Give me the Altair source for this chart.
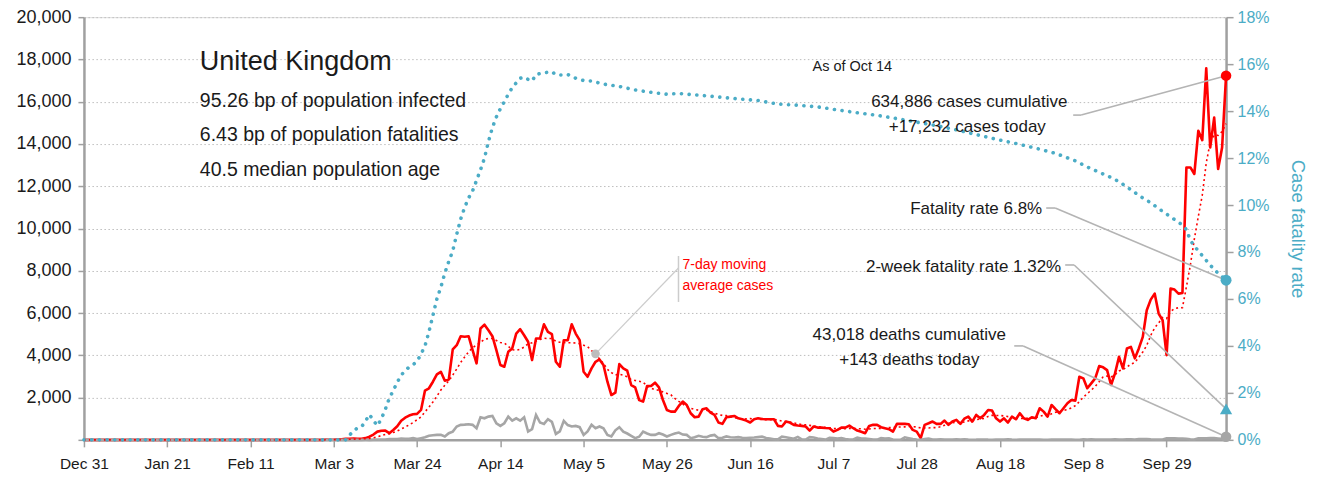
import altair as alt
import pandas as pd

# ---------------- data ----------------
TICK_DAYS = [0, 21, 42, 63, 84, 105, 126, 147, 168, 189, 210, 231, 252, 273]
TICK_LABELS = ["Dec 31", "Jan 21", "Feb 11", "Mar 3", "Mar 24", "Apr 14", "May 5",
               "May 26", "Jun 16", "Jul 7", "Jul 28", "Aug 18", "Sep 8", "Sep 29"]
LAST_DAY = 288  # Oct 14, days since Dec 31

# daily cases, day 0 = Dec 31
CASES = [0] * 61 + [
    10, 5, 10, 30, 30, 50, 45, 65, 50, 50,                      # d61-70
    80, 150, 250, 390, 430, 440, 315, 470, 640, 900,            # d71-80
    1050, 1150, 1210, 1230, 1415, 2330, 2440, 2750, 3100, 3220,
    2800, 2860, 4280, 4480, 4905, 4880, 4905, 4245, 3620, 5270,
    5450, 5190, 4905, 4245, 3540, 3460, 4170, 4325, 5030, 5235,
    4950, 4640, 3775, 4795, 4795, 5465, 5110, 5000, 3695, 3460,
    4715, 4715, 5470, 5030, 4715, 3220, 2985, 3380, 3695, 3805,
    3540, 2750, 2120, 2230, 3585, 3380, 3270, 2595, 2485, 1885,
    1810, 2545, 2545, 2705, 2485, 1885, 1415, 1335, 1335, 1605,
    1810, 1650, 1260, 1070, 1100, 1450, 1495, 1290, 1180, 820,
    755, 1070, 1100, 1130, 1020, 975, 910, 820, 975, 1020,
    990, 975, 975, 975, 660, 630, 865, 820, 710, 680,
    660, 630, 440, 630, 580, 580, 560, 550, 390, 470,
    580, 580, 675, 550, 440, 380, 315, 660, 710, 710,
    600, 550, 505, 390, 755, 755, 755, 740, 470, 390,           # d201-210
    80, 710, 785, 865, 755, 755, 910, 710, 865, 945,
    755, 1000, 1100, 865, 1180, 1020, 1180, 1415, 1385, 1020,
    865, 1020, 820, 1100, 975, 1260, 1020, 945, 1070, 1020,
    1495, 1335, 1100, 1650, 1450, 1260, 1495, 1730, 1885, 1855,
    2985, 2910, 2440, 2675, 2910, 3490, 3430, 3300, 2595, 3145,
    3930, 3380, 4325, 4400, 3855, 4325, 4875, 6130, 6635, 6920,
    5975, 5660, 4010, 7155, 7110, 6920, 6950, 12890, 12890, 12580,
    14620, 14180, 17580, 13835, 15250, 12815, 13835, 17232,     # d281-288
]

# daily deaths, day 0 = Dec 31
DEATHS = [0] * 70 + [
    1, 2, 1, 10, 14, 20, 16, 33, 40, 33, 56, 48, 54, 87, 41,     # d70-84
    80, 120, 190, 220, 235, 235,                                 # d85-90
    157, 315, 390, 630, 710, 720, 740, 710, 550, 1070,
    1020, 1100, 1130, 785, 660, 785, 1100, 910, 1020, 910,
    1070, 390, 505, 1180, 820, 755, 975, 850, 280, 400,
    900, 700, 630, 660, 600, 235, 400, 710, 550, 630,
    550, 235, 160, 450, 600, 390, 300, 190, 80, 150,
    390, 300, 235, 235, 315, 250, 160, 235, 300, 345,
    250, 235, 80, 120, 190, 150, 130, 200, 235, 80,
    100, 160, 120, 110, 130, 100, 80, 100, 110, 130,
    150, 85, 60, 30, 25, 150, 120, 90, 50, 140,
    20, 15, 130, 110, 60, 40, 10, 100, 80, 60,
    80, 40, 10, 20, 110, 60, 65, 40, 10, 10,
    80, 60, 70, 20, 5, 10, 120, 80, 40, 10,
    5, 40, 65, 20, 20, 30, 10, 10, 10, 20,
    10, 20, 10, 5, 10, 20, 20, 10, 5, 10,
    10, 15, 20, 10, 5, 10, 15, 15, 10, 15,
    10, 5, 5, 10, 10, 15, 10, 10, 12, 5,
    5, 30, 10, 20, 15, 10, 10, 10, 10, 25,
    20, 20, 25, 25, 20, 35, 40, 35, 25, 20,
    20, 15, 70, 70, 70, 65, 65, 50, 30, 20,
    75, 70, 75, 80, 80, 65, 50, 143,
]

# case fatality rate (%), cumulative deaths / cumulative cases
CFR_DAYS = [0, 66, 67, 68, 69, 70, 71, 72, 73, 74, 75, 76, 77, 78, 79, 80,
            81, 82, 83, 84, 85, 86, 87, 88, 89, 90, 91, 92, 93, 94, 95, 96,
            97, 98, 99, 100, 101, 102, 103, 104, 105, 106, 107, 108, 109, 110,
            111, 112, 113, 114, 116, 118, 119, 121, 122, 124, 126, 128, 131,
            135, 139, 143, 147, 150, 155, 160, 165, 170, 175, 180, 185, 190,
            195, 200, 205, 210, 215, 220, 225, 230, 235, 240, 245, 250, 254,
            258, 261, 264, 267, 269, 271, 274, 277, 278, 279, 280, 281, 283,
            285, 287, 288]
CFR_PCT = [0, 0, 0.2, 0.4, 0.5, 0.55, 0.8, 1.08, 0.82, 0.6, 0.9, 1.3, 1.77, 2.1,
           2.45, 2.75, 2.95, 3.1, 3.2, 3.35, 3.65, 4.0, 4.6, 5.3, 6.0, 6.5, 7.1,
           7.6, 8.05, 8.75, 9.4, 9.9, 10.3, 10.6, 11.05, 11.5, 12.0, 12.7, 13.3,
           13.75, 14.1, 14.4, 14.72, 15.0, 15.2, 15.4, 15.45, 15.35, 15.28,
           15.56, 15.63, 15.68, 15.55, 15.53, 15.56, 15.4, 15.3, 15.28, 15.15,
           15.05, 14.9, 14.8, 14.72, 14.75, 14.68, 14.6, 14.52, 14.45, 14.3,
           14.25, 14.18, 14.05, 13.93, 13.82, 13.68, 13.53, 13.38, 13.2, 13.0,
           12.8, 12.62, 12.42, 12.2, 11.88, 11.54, 11.25, 11.0, 10.65, 10.3,
           10.1, 9.85, 9.5, 9.15, 8.95, 8.5, 8.25, 8.05, 7.64, 7.25, 6.95, 6.8]
TWO_WEEK_CFR = 1.32
CALLOUT_DAY = 129   # where the "7-day moving average cases" note points
CUM_CASES = 634886
CUM_DEATHS = 43018

TITLE = "United Kingdom"
FACTS = ["95.26 bp of population infected",
         "6.43 bp of population fatalities",
         "40.5 median population age"]

assert len(CASES) == LAST_DAY + 1 and len(DEATHS) == LAST_DAY + 1
assert len(CFR_DAYS) == len(CFR_PCT)

# ---------------- styling ----------------
FONT = "Liberation Sans, Arial, sans-serif"
RED = "#ff0000"
BLUE = "#4bacc6"
GREY = "#a6a6a6"
AXIS_GREY = "#a0a0a0"
LEADER = "#b4b4b4"
INK = "#1a1a1a"

W, H = 1143, 423

daily = pd.DataFrame({"day": list(range(LAST_DAY + 1)), "cases": CASES, "deaths": DEATHS})
cfr = pd.DataFrame({"day": CFR_DAYS, "cfr": CFR_PCT})

left_scale = alt.Scale(domain=[0, 20000], nice=False, zero=True)
right_scale = alt.Scale(domain=[0, 18], nice=False, zero=True)
x_scale = alt.Scale(domain=[0, LAST_DAY], nice=False, zero=False)

label_lookup = "{" + ", ".join(f"'{d}': '{t}'" for d, t in zip(TICK_DAYS, TICK_LABELS)) + "}"
x_axis = alt.Axis(values=TICK_DAYS,
                  labelExpr=f"{label_lookup}[datum.label]",
                  title=None, grid=False, orient="bottom",
                  domainColor=AXIS_GREY, domainWidth=2.5,
                  tickColor=AXIS_GREY, tickWidth=1.5, tickSize=7, labelPadding=10,
                  labelFontSize=15.5, labelColor=INK, labelFont=FONT,
                  labelOverlap=False, labelFlush=False, format="d")
left_axis = alt.Axis(values=list(range(0, 20001, 2000)),
                     labelExpr="datum.value == 0 ? '' : format(datum.value, ',')",
                     title=None, orient="left", grid=True, gridColor="#bdbdbd",
                     gridDash=[1.5, 2.5], gridWidth=1, domainColor=AXIS_GREY, domainWidth=2.5,
                     tickColor=AXIS_GREY, tickWidth=1.5, tickSize=6, labelPadding=7,
                     labelFontSize=18, labelColor=INK, labelFont=FONT)
right_axis = alt.Axis(values=list(range(0, 19, 2)), labelExpr="datum.value + '%'",
                      title="Case fatality rate", orient="right", grid=False,
                      domainColor=AXIS_GREY, domainWidth=2.5, tickColor=AXIS_GREY,
                      tickWidth=1.5, tickSize=7, labelPadding=4, labelFontSize=16,
                      labelColor=BLUE, labelFont=FONT, titleColor=BLUE,
                      titleFontSize=18.5, titleFontWeight="normal", titleFont=FONT,
                      titlePadding=18)

# every layer that has an x field carries the same x axis definition so they merge
X = alt.X("day:Q", scale=x_scale, axis=x_axis)

cases_line = alt.Chart(daily).mark_line(color=RED, strokeWidth=2.6, strokeJoin="round").encode(
    x=X, y=alt.Y("cases:Q", scale=left_scale, axis=left_axis))

deaths_line = alt.Chart(daily).mark_line(color=GREY, strokeWidth=2.6).encode(
    x=X, y=alt.Y("deaths:Q", scale=left_scale, axis=None))

ma_line = alt.Chart(daily).transform_window(
    ma="mean(cases)", frame=[-6, 0], sort=[{"field": "day"}]
).mark_line(color=RED, strokeWidth=1.6, strokeDash=[2, 3]).encode(
    x=X, y=alt.Y("ma:Q", scale=left_scale, axis=None))

cfr_line = alt.Chart(cfr).mark_line(color=BLUE, strokeWidth=3.6, strokeDash=[0.1, 7.6],
                                    strokeCap="round").encode(
    x=X, y=alt.Y("cfr:Q", scale=right_scale, axis=right_axis))

last = daily[daily["day"] == LAST_DAY]
cfr_last = cfr[cfr["day"] == LAST_DAY]
two_week = pd.DataFrame({"day": [LAST_DAY], "rate": [TWO_WEEK_CFR]})


def leader(df, field, scale, sx, sy, hx):
    seg = alt.Chart(df).mark_rule(color=LEADER, strokeWidth=1.6).encode(
        x=X, y=alt.Y(f"{field}:Q", scale=scale, axis=None),
        x2=alt.value(hx), y2=alt.value(sy))
    hor = alt.Chart(df).mark_rule(color=LEADER, strokeWidth=1.6).encode(
        x=alt.value(sx), x2=alt.value(hx), y=alt.value(sy))
    return [seg, hor]


layers = []
layers += leader(last, "cases", left_scale, 990, 98, 998)
layers += leader(cfr_last, "cfr", right_scale, 963, 191, 972)
layers += leader(two_week, "rate", right_scale, 982, 248, 991)
layers += leader(last, "deaths", left_scale, 931, 329, 940)

# callout for the moving average
callout = alt.Chart(daily).transform_window(
    ma="mean(cases)", frame=[-6, 0], sort=[{"field": "day"}]
).transform_filter(alt.datum.day == CALLOUT_DAY)
callout_leader = callout.mark_rule(color="#cccccc", strokeWidth=1.2).encode(
    x=X, y=alt.Y("ma:Q", scale=left_scale, axis=None),
    x2=alt.value(595), y2=alt.value(251))
callout_dot = callout.mark_circle(color="#bdbdbd", size=75, opacity=1).encode(
    x=X, y=alt.Y("ma:Q", scale=left_scale, axis=None))
callout_bar = alt.Chart(last).mark_rule(color="#cccccc", strokeWidth=1.5).encode(
    x=alt.value(595), y=alt.value(239), y2=alt.value(285))

end_cases = alt.Chart(last).mark_circle(color=RED, size=110, opacity=1).encode(
    x=X, y=alt.Y("cases:Q", scale=left_scale, axis=None))
end_deaths = alt.Chart(last).mark_circle(color="#a6a6a6", size=110, opacity=1).encode(
    x=X, y=alt.Y("deaths:Q", scale=left_scale, axis=None))
end_cfr = alt.Chart(cfr_last).mark_circle(color=BLUE, size=120, opacity=1).encode(
    x=X, y=alt.Y("cfr:Q", scale=right_scale, axis=None))
end_two = alt.Chart(two_week).mark_point(shape="triangle-up", filled=True, color=BLUE,
                                         size=150, opacity=1).encode(
    x=X, y=alt.Y("rate:Q", scale=right_scale, axis=None))

one = pd.DataFrame({"k": [0]})


def label(text, x, y, size, align="left", color=INK):
    return alt.Chart(one).mark_text(text=text, font=FONT, fontSize=size, align=align,
                                    baseline="middle", color=color).encode(
        x=alt.value(x), y=alt.value(y))


texts = [
    label(TITLE, 116, 45, 27),
    label(FACTS[0], 116, 84, 19.5),
    label(FACTS[1], 116, 118, 19.5),
    label(FACTS[2], 116, 153, 19.5),
    label("As of Oct 14", 769, 50, 14.5, "center"),
    label(f"{CUM_CASES:,} cases cumulative", 886, 85, 17, "center"),
    label(f"+{CASES[-1]:,} cases today", 884, 110, 17, "center"),
    label(f"Fatality rate {CFR_PCT[-1]}%", 959, 192, 17, "right"),
    label(f"2-week fatality rate {TWO_WEEK_CFR}%", 978, 250, 17, "right"),
    label(f"{CUM_DEATHS:,} deaths cumulative", 826, 318, 17, "center"),
    label(f"+{DEATHS[-1]} deaths today", 826, 343, 17, "center"),
    label("7-day moving", 599, 248, 14, "left", RED),
    label("average cases", 599, 269, 14, "left", RED),
]

chart = alt.layer(
    cases_line, deaths_line, ma_line, cfr_line,
    *layers, callout_leader, callout_bar, callout_dot,
    end_cfr, end_two, end_deaths, end_cases,
    *texts,
).resolve_scale(y="independent").properties(
    width=W, height=H,
    autosize=alt.AutoSizeParams(type="none"),
    padding={"left": 76, "top": 9, "right": 90, "bottom": 32},
).configure_view(stroke=None).configure(font=FONT, background="white")

chart.save("out.html", embed_options={"renderer": "svg", "actions": False})
